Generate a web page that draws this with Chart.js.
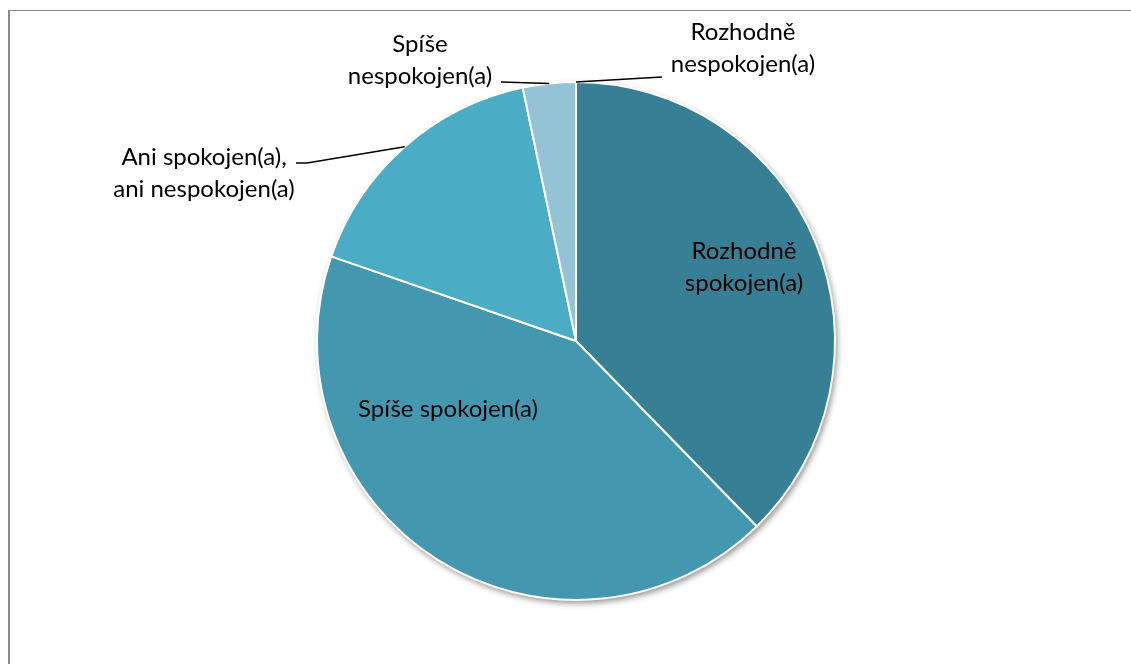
<!DOCTYPE html>
<html>
<head>
<meta charset="utf-8">
<script src="https://cdn.jsdelivr.net/npm/chart.js@4"></script>
<style>
  html, body { margin: 0; padding: 0; background: #fff; }
  #wrap { position: relative; width: 1131px; height: 664px; overflow: hidden; }
  #frame {
    position: absolute; left: 8px; top: 10px; width: 1200px; height: 800px;
    border-left: 2px solid #8a8a8a; border-top: 1px solid #8a8a8a;
  }
  #spokojenost { position: absolute; left: 0; top: 0; }
</style>
</head>
<body>
<div id="wrap">
  <div id="frame"></div>
  <canvas id="spokojenost" width="1131" height="664"></canvas>
</div>
<script>
// odpovědi (v %)
const kategorie = [
  ['Rozhodně', 'spokojen(a)'],
  ['Spíše spokojen(a)'],
  ['Ani spokojen(a),', 'ani nespokojen(a)'],
  ['Spíše', 'nespokojen(a)'],
  ['Rozhodně', 'nespokojen(a)']
];
const hodnoty = [37.7, 42.6, 16.4, 3.3, 0];
const barvy = ['#377f94', '#4398b0', '#4bacc6', '#93c3d5', '#b7d7e3'];

// umístění popisků: uvnitř výseče, nebo venku s odkazovou čarou
const popisky = [
  { x: 744, y: 267, inside: true },
  { x: 448, y: 409, inside: true },
  { x: 204, y: 173, line: [[296, 163], [307, 163]] },
  { x: 420, y: 60, line: [[501, 82]] },
  { x: 743, y: 48, line: [[662, 77]] }
];

const FONT = '24px Lato, "Open Sans", sans-serif';
const LINE_H = 32;

// stín pod celým koláčem
const stinPlugin = {
  id: 'stin',
  beforeDatasetsDraw(chart) {
    const arc = chart.getDatasetMeta(0).data[0];
    if (!arc) return;
    const ctx = chart.ctx;
    ctx.save();
    ctx.shadowColor = 'rgba(0,0,0,0.45)';
    ctx.shadowBlur = 6;
    ctx.shadowOffsetX = 2;
    ctx.shadowOffsetY = 3;
    ctx.fillStyle = '#ffffff';
    ctx.beginPath();
    ctx.arc(arc.x, arc.y, arc.outerRadius, 0, Math.PI * 2);
    ctx.fill();
    ctx.restore();
  }
};

const popiskyPlugin = {
  id: 'popisky',
  afterDatasetsDraw(chart) {
    const ctx = chart.ctx;
    const meta = chart.getDatasetMeta(0);
    ctx.save();
    ctx.font = FONT;
    ctx.fillStyle = '#000';
    ctx.textAlign = 'center';
    ctx.textBaseline = 'middle';
    meta.data.forEach((arc, i) => {
      const p = popisky[i];
      const lines = kategorie[i];
      if (!p.inside) {
        // čára od okraje výseče k popisku
        const mid = (arc.startAngle + arc.endAngle) / 2;
        const ex = arc.x + Math.cos(mid) * arc.outerRadius;
        const ey = arc.y + Math.sin(mid) * arc.outerRadius;
        ctx.strokeStyle = '#000';
        ctx.lineWidth = 1.5;
        ctx.beginPath();
        ctx.moveTo(ex, ey);
        for (let k = p.line.length - 1; k >= 0; k--) {
          ctx.lineTo(p.line[k][0], p.line[k][1]);
        }
        ctx.stroke();
      }
      const y0 = p.y - (lines.length - 1) * LINE_H / 2;
      lines.forEach((t, k) => ctx.fillText(t, p.x, y0 + k * LINE_H));
    });
    ctx.restore();
  }
};

new Chart(document.getElementById('spokojenost'), {
  type: 'pie',
  data: {
    labels: kategorie.map(l => l.join(' ')),
    datasets: [{
      data: hodnoty,
      backgroundColor: barvy,
      borderColor: '#ffffff',
      borderWidth: 2
    }]
  },
  options: {
    responsive: false,
    animation: false,
    layout: { padding: { left: 316, right: 295, top: 81, bottom: 63 } },
    plugins: {
      legend: { display: false },
      tooltip: { enabled: false }
    }
  },
  plugins: [stinPlugin, popiskyPlugin]
});
</script>
</body>
</html>
